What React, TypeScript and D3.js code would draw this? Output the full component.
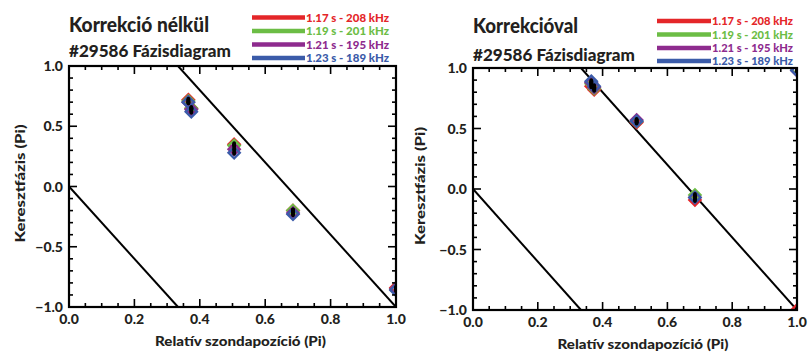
import React from "react";
import * as d3 from "d3";

// ---- data ----
const SERIES_NAMES = ["1.17 s - 208 kHz", "1.19 s - 201 kHz", "1.21 s - 195 kHz", "1.23 s - 189 kHz"];
const SERIES_COLORS = ["#e42629", "#6cbd45", "#8e2b8e", "#3b5ba9"];
const PROBE_POS = [0.365, 0.374, 0.505, 0.685, 1.0];

// Korrekció nélkül
const RAW_RED = [0.72, 0.65, 0.35, -0.2, -0.84];
const RAW_GREEN = [0.71, 0.65, 0.34, -0.2, -0.85];
const RAW_PURPLE = [0.7, 0.64, 0.31, -0.22, -0.85];
const RAW_BLUE = [0.7, 0.62, 0.28, -0.23, -0.86];

// Korrekcióval
const COR_RED = [0.85, 0.82, 0.55, -0.09, -1.0];
const COR_GREEN = [0.87, 0.83, 0.56, -0.05, 0.99];
const COR_PURPLE = [0.88, 0.84, 0.57, -0.07, 0.98];
const COR_BLUE = [0.89, 0.85, 0.56, -0.07, 0.98];

// reference phase lines (x, y) pairs
const LINE_A = [[0, 0], [1 / 3, -1]];
const LINE_B = [[1 / 3, 1], [1, -1]];

const X_TICKS = [0, 0.2, 0.4, 0.6, 0.8, 1.0];
const Y_TICKS = [-1, -0.5, 0, 0.5, 1];
const X_MINOR = d3.range(0, 1.0001, 0.05);
const Y_MINOR = d3.range(-1, 1.0001, 0.1);

const FONT = "Lato, 'Open Sans', sans-serif";
const HEAVY = 900;

interface PanelProps {
  id: string;
  x0: number; x1: number; yTop: number; yBot: number;
  title: string; titleW: number; titleY: number;
  subY: number;
  legX0: number; legX1: number; legTextEnd: number; legY: number[];
  yTitleX: number;
  series: number[][];
}

function Panel(p: PanelProps) {
  const xs = d3.scaleLinear().domain([0, 1]).range([p.x0, p.x1]);
  const ys = d3.scaleLinear().domain([-1, 1]).range([p.yBot, p.yTop]);
  const fmt = d3.format(".1f");
  const line = d3.line<number[]>().x(d => xs(d[0])).y(d => ys(d[1]));
  const diamond = d3.symbol().type(d3.symbolDiamond2).size(80)();
  const clipId = "clip-" + p.id;
  const major = 8, minor = 4;
  return (
    <g>
      <defs>
        <clipPath id={clipId}>
          <rect x={p.x0} y={p.yTop} width={p.x1 - p.x0} height={p.yBot - p.yTop} />
        </clipPath>
      </defs>
      {/* titles */}
      <text x={p.x0} y={p.titleY} fontFamily={FONT} fontWeight={HEAVY} fontSize={20}
        textLength={p.titleW} lengthAdjust="spacingAndGlyphs" fill="#231f20">{p.title}</text>
      <text x={p.x0} y={p.subY} fontFamily={FONT} fontWeight={HEAVY} fontSize={16}
        textLength={162} lengthAdjust="spacingAndGlyphs" fill="#231f20">#29586 Fázisdiagram</text>
      {/* legend */}
      {SERIES_NAMES.map((n, i) => (
        <g key={n}>
          <line x1={p.legX0} x2={p.legX1} y1={p.legY[i]} y2={p.legY[i]}
            stroke={SERIES_COLORS[i]} strokeWidth={4.5} />
          <text x={p.legTextEnd} y={p.legY[i] + 4} textAnchor="end" fontFamily={FONT}
            fontWeight={HEAVY} fontSize={11.5} fill={SERIES_COLORS[i]}
            textLength={p.legTextEnd - p.legX1 - 1} lengthAdjust="spacingAndGlyphs">{n}</text>
        </g>
      ))}
      {/* data lines */}
      <g clipPath={`url(#${clipId})`}>
        <path d={line(LINE_A as any) || ""} stroke="#000" strokeWidth={2} fill="none" />
        <path d={line(LINE_B as any) || ""} stroke="#000" strokeWidth={2} fill="none" />
        {p.series.map((vals, si) => (
          <g key={si}>
            {vals.map((v, j) => (
              <path key={j} d={diamond || ""} transform={`translate(${xs(PROBE_POS[j])},${ys(v)})`}
                fill="none" stroke={SERIES_COLORS[si]} strokeWidth={2.4} />
            ))}
          </g>
        ))}
        {p.series.map((vals, si) => (
          <g key={"c" + si}>
            {vals.map((v, j) => (
              <ellipse key={j} cx={xs(PROBE_POS[j])} cy={ys(v)} rx={2} ry={3} fill="#000" />
            ))}
          </g>
        ))}
      </g>
      {/* ticks */}
      {X_MINOR.map((t, i) => {
        const isMajor = Math.abs(Math.round(t / 0.2) * 0.2 - t) < 1e-6;
        const L = isMajor ? major : minor;
        return (
          <g key={"xm" + i}>
            <line x1={xs(t)} x2={xs(t)} y1={p.yBot} y2={p.yBot - L} stroke="#000" strokeWidth={1.6} />
            <line x1={xs(t)} x2={xs(t)} y1={p.yTop} y2={p.yTop + L} stroke="#000" strokeWidth={1.6} />
          </g>
        );
      })}
      {Y_MINOR.map((t, i) => {
        const isMajor = Math.abs(Math.round(t / 0.5) * 0.5 - t) < 1e-6;
        const L = isMajor ? major : minor;
        return (
          <g key={"ym" + i}>
            <line x1={p.x0} x2={p.x0 + L} y1={ys(t)} y2={ys(t)} stroke="#000" strokeWidth={1.6} />
            <line x1={p.x1} x2={p.x1 - L} y1={ys(t)} y2={ys(t)} stroke="#000" strokeWidth={1.6} />
          </g>
        );
      })}
      <rect x={p.x0} y={p.yTop} width={p.x1 - p.x0} height={p.yBot - p.yTop}
        fill="none" stroke="#000" strokeWidth={2.2} />
      {/* tick labels */}
      {X_TICKS.map(t => (
        <text key={"xl" + t} x={xs(t)} y={p.yBot + 17} textAnchor="middle" fontFamily={FONT}
          fontWeight={HEAVY} fontSize={14} fill="#231f20">{fmt(t)}</text>
      ))}
      {Y_TICKS.map(t => (
        <text key={"yl" + t} x={p.x0 - 6} y={ys(t) + 5} textAnchor="end" fontFamily={FONT}
          fontWeight={HEAVY} fontSize={14} fill="#231f20">{fmt(t)}</text>
      ))}
      {/* axis titles */}
      <text x={(p.x0 + p.x1) / 2 + 8} y={p.yBot + 39} textAnchor="middle" fontFamily={FONT}
        fontWeight={HEAVY} fontSize={14} fill="#231f20" textLength={171}
        lengthAdjust="spacingAndGlyphs">Relatív szondapozíció (Pi)</text>
      <text transform={`translate(${p.yTitleX},${(p.yTop + p.yBot) / 2 - 3}) rotate(-90)`}
        textAnchor="middle" fontFamily={FONT} fontWeight={HEAVY} fontSize={14} fill="#231f20"
        textLength={118} lengthAdjust="spacingAndGlyphs">Keresztfázis (Pi)</text>
    </g>
  );
}

export default function App() {
  return (
    <svg width={809} height={356} style={{ position: "absolute", left: 0, top: 0, background: "#fff" }}>
      <rect width={809} height={356} fill="#fff" />
      <Panel id="l" x0={69} x1={396} yTop={66} yBot={307}
        title="Korrekció nélkül" titleW={140} titleY={32} subY={57}
        legX0={252} legX1={305} legTextEnd={389} legY={[17.5, 31, 44.5, 58]}
        yTitleX={25}
        series={[RAW_RED, RAW_GREEN, RAW_PURPLE, RAW_BLUE]} />
      <Panel id="r" x0={473} x1={797} yTop={68} yBot={310}
        title="Korrekcióval" titleW={105} titleY={33} subY={61}
        legX0={657} legX1={711} legTextEnd={793} legY={[21, 34.5, 48, 61]}
        yTitleX={425}
        series={[COR_RED, COR_GREEN, COR_PURPLE, COR_BLUE]} />
    </svg>
  );
}
